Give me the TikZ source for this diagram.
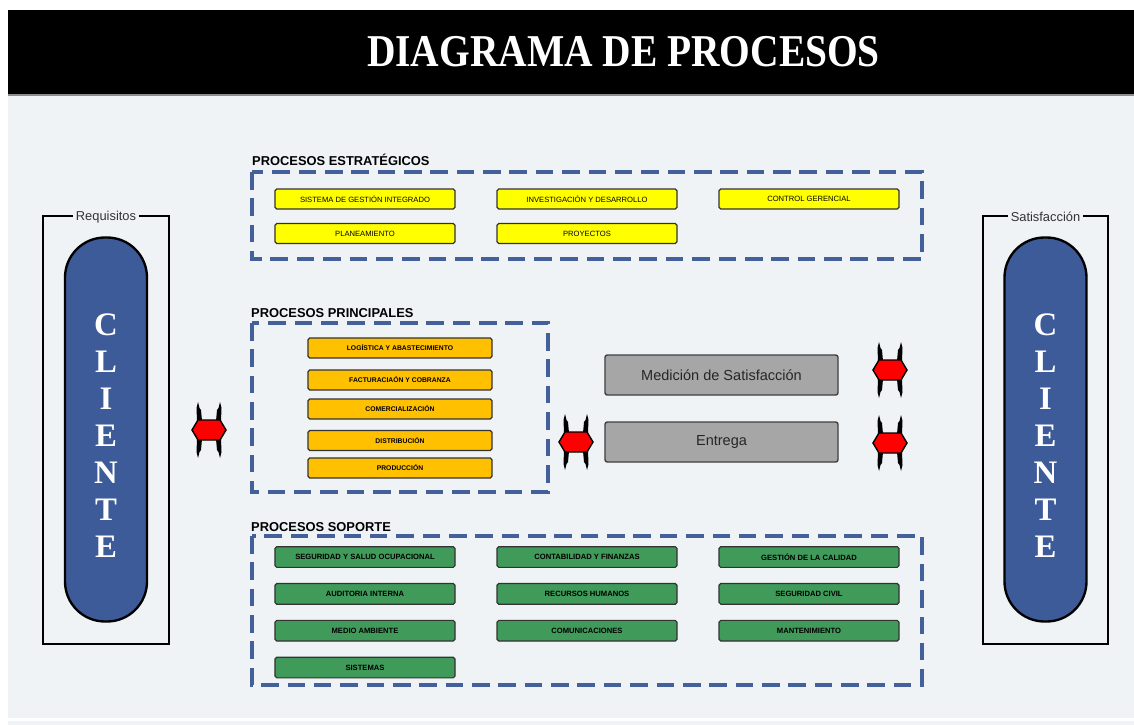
\documentclass[tikz,border=0pt]{standalone}
\usepackage{fontspec}
\usepackage{graphicx}
\setmainfont{Liberation Serif}
\setsansfont{Liberation Sans}
\usetikzlibrary{positioning}
\definecolor{fondoGris}{RGB}{239,243,245}
\definecolor{procAzul}{RGB}{68,96,154}
\definecolor{clienteAzul}{RGB}{61,90,153}
\definecolor{estratAmarillo}{RGB}{255,255,0}
\definecolor{princNaranja}{RGB}{255,192,0}
\definecolor{soporteVerde}{RGB}{64,154,90}
\definecolor{medGris}{RGB}{166,166,166}
\definecolor{flechaRojo}{RGB}{255,0,0}

\begin{document}
\begin{tikzpicture}[x=0.03cm, y=-0.03cm]
    \tikzstyle{yellowbox} = [rectangle, rounded corners=1.5pt, draw=black!80, line width=1pt, fill=estratAmarillo, minimum width=5.4cm, minimum height=0.6cm, text centered, font=\sffamily\fontsize{6.5}{7}\selectfont]
    \tikzstyle{orangebox} = [rectangle, rounded corners=1.5pt, draw=black!80, line width=1pt, fill=princNaranja, minimum width=5.52cm, minimum height=0.6cm, text centered, font=\sffamily\bfseries\fontsize{5.8}{7}\selectfont]
    \tikzstyle{greenbox} = [rectangle, rounded corners=1.5pt, draw=black!80, line width=1pt, fill=soporteVerde, minimum width=5.4cm, minimum height=0.62cm, text centered, font=\sffamily\bfseries\fontsize{6.5}{7}\selectfont]
    \tikzstyle{greybox} = [rectangle, rounded corners=2pt, draw=black!75, line width=1.2pt, fill=medGris, minimum width=6.99cm, minimum height=1.2cm, text centered, text=black!85, font=\sffamily\fontsize{12.4}{14}\selectfont]
    \tikzstyle{dashbox} = [procAzul, line width=3pt, dash pattern=on 15pt off 7.5pt]
    \tikzstyle{seccion} = [anchor=base west, inner sep=0pt, font=\sffamily\bfseries\fontsize{11}{13}\selectfont]
    \tikzstyle{marco} = [black, line width=2pt]
    \tikzstyle{marcolabel} = [fill=fondoGris, inner sep=2.5pt, text=black!80, font=\sffamily\fontsize{11}{13}\selectfont]
    \tikzstyle{capsula} = [rectangle, rounded corners=1.2cm, draw=black, line width=2pt, fill=clienteAzul, minimum width=2.46cm, minimum height=11.52cm]
    \tikzstyle{cliente} = [text=white, align=center, font=\bfseries\fontsize{28}{31.5}\selectfont]
    \tikzset{dblarrow/.pic={
        \foreach \sx in {1,-1}
            \foreach \sy in {1,-1}
                \fill[black] ({\sx*7},{\sy*9}) -- ({\sx*12},{\sy*9}) -- ({\sx*12.5},{\sy*22}) -- ({\sx*11},{\sy*28}) -- ({\sx*9.5},{\sy*22}) -- ({\sx*8},{\sy*20}) -- cycle;
        \filldraw[fill=flechaRojo, draw=black, line width=1.2pt] (-17,0) -- (-11,-10) -- (11,-10) -- (17,0) -- (11,10) -- (-11,10) -- cycle;
    }}

    \useasboundingbox (0,0) rectangle (1134,725);
    \fill[white] (0,0) rectangle (1134,725);
    \fill[fondoGris] (8,95) rectangle (1134,718);
    \fill[fondoGris] (8,721) rectangle (1134,725);
    \fill[black] (8,10) rectangle (1134,95);
    \draw[black!45, line width=1pt] (8,95) -- (1134,95);
    \node[text=white, font=\bfseries\fontsize{37}{40}\selectfont] (titulo) at (623.5,51.5) {\scalebox{0.91}[1.05]{DIAGRAMA DE PROCESOS}};

    \draw[marco] (43,216) rectangle (169,644);
    \node[marcolabel] (requisitos) at (106,217) {Requisitos};
    \node[capsula] (clienteIzq) at (106,429.5) {};
    \node[cliente] (clienteIzqTxt) at (106,435.5) {C\\L\\I\\E\\N\\T\\E};

    \draw[marco] (983,216) rectangle (1108,644);
    \node[marcolabel] (satisfaccion) at (1045.5,217) {Satisfacción};
    \node[capsula] (clienteDer) at (1045.5,429.5) {};
    \node[cliente] (clienteDerTxt) at (1045.5,435.5) {C\\L\\I\\E\\N\\T\\E};

    \node[seccion] (estrat) at (252,165.5) {PROCESOS ESTRATÉGICOS};
    \draw[dashbox] (252,172) rectangle (922,259);
    \node[yellowbox] (sgi) at (365,199) {SISTEMA DE GESTIÓN INTEGRADO};
    \node[yellowbox] (idd) at (587,199) {INVESTIGACIÓN Y DESARROLLO};
    \node[yellowbox] (cgerencial) at (809,199) {CONTROL GERENCIAL};
    \node[yellowbox, below=0.4cm of sgi] (planeamiento) {PLANEAMIENTO};
    \node[yellowbox, below=0.4cm of idd] (proyectos) {PROYECTOS};

    \node[seccion] (princ) at (251,317) {PROCESOS PRINCIPALES};
    \draw[dashbox] (252,323) rectangle (548,492);
    \node[orangebox] (logistica) at (400,348) {LOGÍSTICA Y ABASTECIMIENTO};
    \node[orangebox] (facturacion) at (400,380) {FACTURACIAÓN Y COBRANZA};
    \node[orangebox] (comercial) at (400,409) {COMERCIALIZACIÓN};
    \node[orangebox] (distribucion) at (400,440.5) {DISTRIBUCIÓN};
    \node[orangebox] (produccion) at (400,468) {PRODUCCIÓN};

    \node[greybox] (medicion) at (721.5,375) {Medición de Satisfacción};
    \node[greybox] (entrega) at (721.5,442) {Entrega};

    \coordinate (flechaReq) at (209,430);
    \coordinate (flechaEnt) at (576,442);
    \coordinate (flechaMed) at (890,370);
    \coordinate (flechaSat) at (890,443);
    \pic at (flechaReq) {dblarrow};
    \pic at (flechaEnt) {dblarrow};
    \pic at (flechaMed) {dblarrow};
    \pic at (flechaSat) {dblarrow};

    \node[seccion] (soporte) at (251,531) {PROCESOS SOPORTE};
    \draw[dashbox] (252,536) rectangle (922,685);
    \node[greenbox] (seguridad) at (365,557) {SEGURIDAD Y SALUD OCUPACIONAL};
    \node[greenbox] (contabilidad) at (587,557) {CONTABILIDAD Y FINANZAS};
    \node[greenbox] (calidad) at (809,557) {GESTIÓN DE LA CALIDAD};
    \node[greenbox, below=0.45cm of seguridad] (auditoria) {AUDITORIA INTERNA};
    \node[greenbox, below=0.45cm of contabilidad] (rrhh) {RECURSOS HUMANOS};
    \node[greenbox, below=0.45cm of calidad] (civil) {SEGURIDAD CIVIL};
    \node[greenbox, below=0.45cm of auditoria] (ambiente) {MEDIO AMBIENTE};
    \node[greenbox, below=0.45cm of rrhh] (comunicaciones) {COMUNICACIONES};
    \node[greenbox, below=0.45cm of civil] (mantenimiento) {MANTENIMIENTO};
    \node[greenbox, below=0.45cm of ambiente] (sistemas) {SISTEMAS};
\end{tikzpicture}
\end{document}
